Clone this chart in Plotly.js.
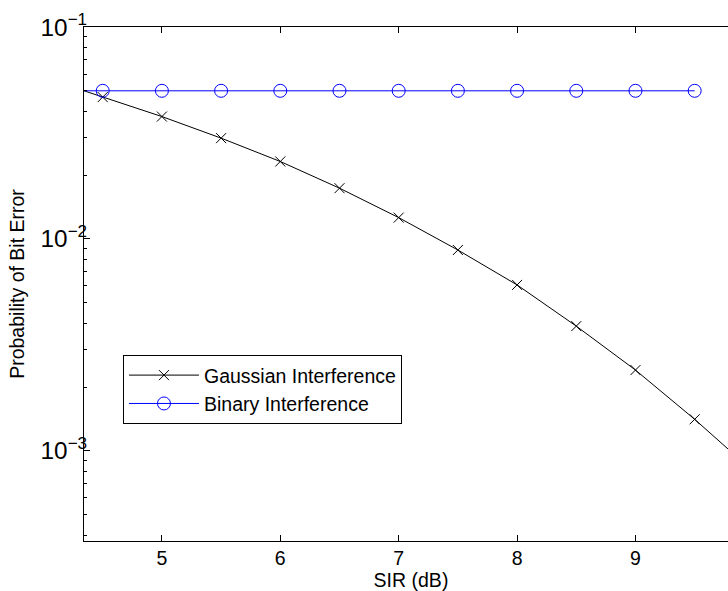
<!DOCTYPE html>
<html>
<head>
<meta charset="utf-8">
<script src="https://cdn.plot.ly/plotly-3.0.1.min.js"></script>
<style>
html,body{margin:0;padding:0;overflow:hidden;background:#fff;}
#chart{width:760px;height:591px;}
</style>
</head>
<body>
<div id="chart"></div>
<script>
// SIR (dB) sample points of the curves (first/last = axis limits)
var sirLine = [4.342, 4.5, 5, 5.5, 6, 6.5, 7, 7.5, 8, 8.5, 9, 9.5, 9.866];
var gaussianBER = [0.05, 0.0467, 0.0378, 0.0299, 0.0232, 0.01736, 0.01261, 0.00887, 0.00607, 0.00388, 0.002407, 0.00141, 0.000927];
var sirBinary = [4.342, 4.5, 5, 5.5, 6, 6.5, 7, 7.5, 8, 8.5, 9, 9.5];
var binaryBER = [0.05, 0.05, 0.05, 0.05, 0.05, 0.05, 0.05, 0.05, 0.05, 0.05, 0.05, 0.05];
var seriesNames = ['Gaussian Interference', 'Binary Interference'];
var xTicks = [5, 6, 7, 8, 9];

// marker positions (every 0.5 dB)
var sirMarkers = sirLine.slice(1, 12);
var gaussMarkers = gaussianBER.slice(1, 12);
var binMarkers = binaryBER.slice(1, 12);

var FONT = 'Liberation Sans, Arial, sans-serif';
var FS = 19.5;
var gaussStyle = {color: '#000000', width: 1};
var binStyle = {color: '#0000ff', width: 1};
var gaussMarker = {symbol: 'x-thin-open', size: 10, color: '#000000', line: {color: '#000000', width: 1}};
var binMarker = {symbol: 'circle-open', size: 13, color: '#0000ff', line: {color: '#0000ff', width: 1}};

var traces = [
  {x: sirLine, y: gaussianBER, mode: 'lines', line: gaussStyle, showlegend: false, hoverinfo: 'skip'},
  {x: sirMarkers, y: gaussMarkers, mode: 'markers', marker: gaussMarker, showlegend: false},
  {x: sirBinary, y: binaryBER, mode: 'lines', line: binStyle, showlegend: false, hoverinfo: 'skip'},
  {x: sirMarkers, y: binMarkers, mode: 'markers', marker: binMarker, showlegend: false},
  // legend entries
  {x: [null], y: [null], mode: 'lines+markers', name: seriesNames[0], line: gaussStyle, marker: gaussMarker},
  {x: [null], y: [null], mode: 'lines+markers', name: seriesNames[1], line: binStyle, marker: binMarker}
];

var layout = {
  width: 760, height: 591,
  margin: {l: 84, r: 22, t: 27, b: 50},
  paper_bgcolor: '#ffffff', plot_bgcolor: '#ffffff',
  font: {family: FONT, size: FS, color: '#000000'},
  showlegend: true,
  legend: {
    x: 0.0596, y: 0.362, xanchor: 'left', yanchor: 'top',
    bgcolor: '#ffffff', bordercolor: '#000000', borderwidth: 1,
    font: {family: FONT, size: FS, color: '#000000'},
    itemwidth: 70
  },
  xaxis: {
    type: 'linear', range: [sirLine[0], sirLine[sirLine.length - 1]],
    tickvals: xTicks, ticktext: xTicks.map(String),
    ticks: 'inside', ticklen: 6, tickcolor: '#000000', tickwidth: 1,
    showline: true, linecolor: '#000000', linewidth: 1, mirror: 'ticks',
    showgrid: false, zeroline: false,
    tickfont: {family: FONT, size: FS, color: '#000000'},
    title: {text: 'SIR (dB)', font: {family: FONT, size: FS, color: '#000000'}, standoff: 4}
  },
  yaxis: {
    type: 'log', range: [-3.425, -1],
    dtick: 1, exponentformat: 'power',
    ticks: 'inside', ticklen: 6, tickcolor: '#000000', tickwidth: 1,
    ticklabelstandoff: -8,
    minor: {ticks: 'inside', ticklen: 3, tickcolor: '#000000', dtick: 'D1', showgrid: false},
    showline: true, linecolor: '#000000', linewidth: 1, mirror: 'ticks',
    showgrid: false, zeroline: false,
    tickfont: {family: FONT, size: FS, color: '#000000'},
    title: {text: 'Probability of Bit Error', font: {family: FONT, size: FS, color: '#000000'}, standoff: 10}
  }
};

Plotly.newPlot('chart', traces, layout, {displayModeBar: false, staticPlot: true});
</script>
</body>
</html>
